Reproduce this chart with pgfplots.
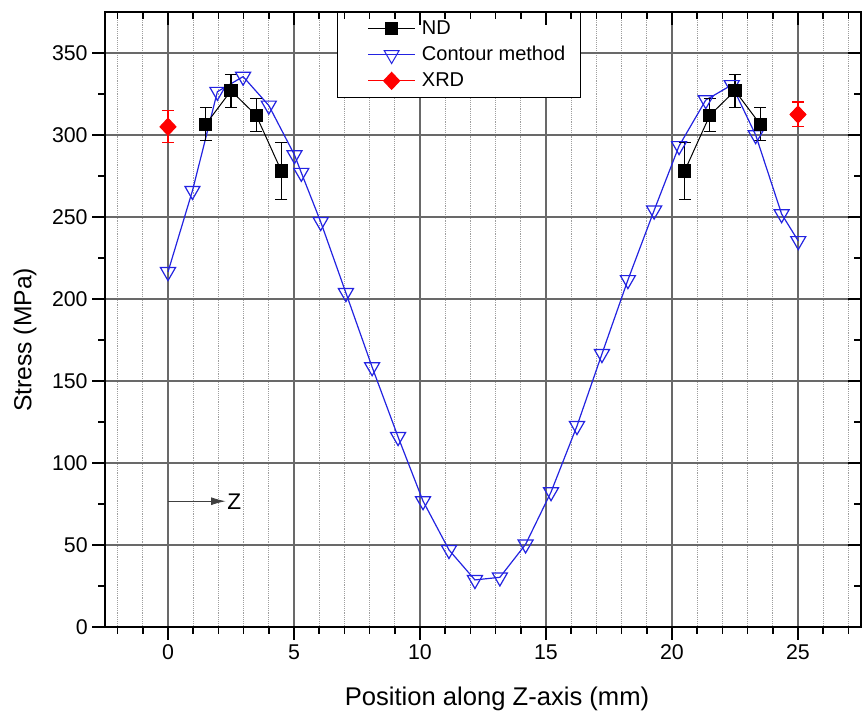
\documentclass[border=0pt]{standalone}
\usepackage{fontspec}
\setmainfont{Liberation Sans}
\usepackage{pgfplots}
\pgfplotsset{compat=1.18}
\usetikzlibrary{arrows.meta}
\definecolor{cblue}{RGB}{35,35,225}
\definecolor{gridgray}{RGB}{105,105,105}
\begin{document}
\begin{tikzpicture}
\pgfplotsset{
  common/.style={
    width=567pt, height=461.25pt, scale only axis,
    xmin=-2.5, xmax=27.5, ymin=0, ymax=375,
    xtick={0,5,...,25}, ytick={0,50,...,350},
    minor xtick={-2,-1,1,2,3,4,6,7,8,9,11,12,13,14,16,17,18,19,21,22,23,24,26,27},
    minor ytick={25,75,...,325},
    major tick length=9.5pt, minor tick length=5pt,
    tick style={black, line width=1.3pt},
    axis line style={line width=1.8pt},
  },
  legimg/.style={legend image code/.code={
      \path[draw=none, fill=none] (-13pt,-4pt) rectangle (39pt,4pt);
      \draw[mark repeat=2, mark phase=2] plot coordinates {(0pt,0pt) (17.5pt,0pt) (35pt,0pt)};}},
}
\begin{axis}[common,
  tick align=outside, xtick pos=bottom, ytick pos=left,
  xmajorgrids=true, ymajorgrids=true, xminorgrids=true, yminorgrids=false,
  major grid style={gridgray, line width=0.9pt, solid},
  minor grid style={gray!75, densely dotted, line width=0.6pt},
  tick label style={font=\fontsize{16}{19}\selectfont},
  /pgf/number format/assume math mode=true,
  xlabel={Position along Z-axis (mm)}, ylabel={Stress (MPa)},
  xlabel style={font=\fontsize{19.2}{22}\selectfont, at={(axis description cs:0.5185,-0.117)}, anchor=center},
  ylabel style={font=\fontsize{18.5}{22}\selectfont, at={(axis description cs:-0.1058,0.4667)}, anchor=center},
  legend style={anchor=north west, at={(0.307,1)}, draw=black, line width=0.8pt, fill=white,
    font=\fontsize{15}{18}\selectfont, inner xsep=10pt, inner ysep=2.5pt,
    nodes={text height=13pt, text depth=4pt, inner sep=1.25pt}},
  legend cell align=left,
]
% Contour method
\addplot[cblue, line width=0.9pt, mark=triangle, mark size=6.5pt,
  mark options={rotate=180, solid, fill=white, line width=0.9pt}, forget plot] coordinates {
(0,216.5) (0.97,266) (1.96,326.4) (2.98,335.6) (4.0,318) (5.02,287.8) (5.29,277)
(6.06,247) (7.06,203.7) (8.1,158.5) (9.13,115.9) (10.12,76.8) (11.15,47) (12.18,28.7)
(13.17,30.3) (14.19,50.4) (15.2,82.3) (16.23,122.6) (17.22,166.5) (18.25,211.6)
(19.29,254) (20.28,293.3) (21.34,321.3) (22.37,330.5) (23.32,300) (24.35,251.8) (25.01,235.4)
};
% ND
\addplot[black, line width=0.75pt, mark=square*, mark size=4.6pt, forget plot,
  error bars/.cd, y dir=both, y explicit,
  error bar style={black, line width=0.8pt},
  error mark options={rotate=90, black, mark size=4.5pt, line width=0.8pt}] coordinates {
(1.5,306.5) +- (0,10) (2.5,327) +- (0,10) (3.5,312) +- (0,10) (4.5,278) +- (0,17.5)
};
\addplot[black, line width=0.75pt, mark=square*, mark size=4.6pt, forget plot,
  error bars/.cd, y dir=both, y explicit,
  error bar style={black, line width=0.8pt},
  error mark options={rotate=90, black, mark size=4.5pt, line width=0.8pt}] coordinates {
(20.5,278) +- (0,17.5) (21.5,312) +- (0,10) (22.5,327) +- (0,10) (23.5,306.5) +- (0,10)
};
% XRD
\addplot[red, line width=0.75pt, mark=diamond*, mark size=6.4pt, mark options={xscale=1.25}, forget plot,
  error bars/.cd, y dir=both, y explicit,
  error bar style={red, line width=0.8pt},
  error mark options={rotate=90, red, mark size=4.5pt, line width=0.8pt}] coordinates {
(0,305) +- (0,9.7)
};
\addplot[red, line width=0.75pt, mark=diamond*, mark size=6.4pt, mark options={xscale=1.25}, forget plot,
  error bars/.cd, y dir=both, y explicit,
  error bar style={red, line width=0.8pt},
  error mark options={rotate=90, red, mark size=4.5pt, line width=0.8pt}] coordinates {
(25,312.5) +- (0,7.6)
};
\addlegendimage{legimg, black, line width=0.75pt, mark=square*, mark size=4.6pt}
\addlegendentry{ND}
\addlegendimage{legimg, cblue, line width=0.75pt, mark=triangle, mark size=6.5pt, mark options={rotate=180, fill=white}}
\addlegendentry{Contour method}
\addlegendimage{legimg, red, line width=0.75pt, mark=diamond*, mark size=6.4pt, mark options={xscale=1.25}}
\addlegendentry{XRD}
% Z arrow annotation
\draw[-{Latex[length=11pt,width=6pt]}, line width=0.7pt, black!75] (axis cs:0,76.7) -- (axis cs:2.29,76.7);
\node[anchor=west, inner sep=1pt, font=\fontsize{17}{20}\selectfont] at (axis cs:2.29,76.7) {Z};
\end{axis}
\begin{axis}[common,
  tick align=inside, xtick pos=top, ytick pos=right,
  xticklabels={}, yticklabels={}]
\end{axis}
\pgfresetboundingbox
\path[use as bounding box] (-78.75pt,-69.75pt) rectangle (570pt,470.25pt);
\end{tikzpicture}
\end{document}
